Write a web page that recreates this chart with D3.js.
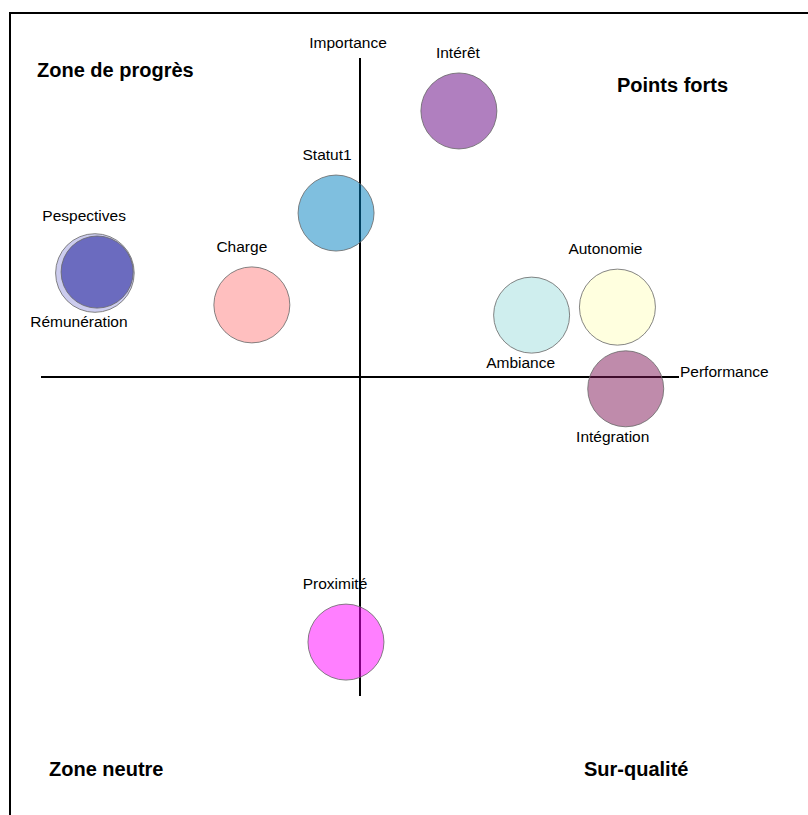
<!DOCTYPE html>
<html>
<head>
<meta charset="utf-8">
<script src="https://cdn.jsdelivr.net/npm/d3@7"></script>
<style>
  html, body { margin: 0; padding: 0; background: #fff; }
  svg { display: block; }
  text { font-family: "Liberation Sans", Arial, sans-serif; fill: #000; }
</style>
</head>
<body>
<svg id="chart" width="808" height="815"></svg>
<script>
// ---- data ----
const names = ["Rémunération", "Pespectives", "Intérêt", "Statut1", "Charge", "Ambiance", "Autonomie", "Intégration", "Proximité"];
const performance = [-0.831, -0.824, 0.31, -0.075, -0.339, 0.538, 0.807, 0.833, -0.044];
const importance  = [0.326, 0.329, 0.834, 0.514, 0.226, 0.194, 0.219, -0.037, -0.831];
const sizes       = [1.07, 0.90, 1, 1, 1, 1, 1, 1, 1];
const colors      = ["#9999dd", "#0a0a90", "#61007f", "#007fbf", "#ff7f7f", "#9fdddd", "#ffffbf", "#7f1757", "#ff00ff"];
const axisNames   = ["Performance", "Importance"];
const quadrants   = ["Zone de progrès", "Points forts", "Zone neutre", "Sur-qualité"];

// ---- layout (label placement, not data) ----
const labelSide = ["below", "above", "above", "above", "above", "below", "above", "below", "above"];
const labelDx   = [-16, -13, -1, -9, -10, -11, -12, -13, -11];

const svg = d3.select("#chart");
const x = d3.scaleLinear().domain([-1, 1]).range([41, 679]);
const y = d3.scaleLinear().domain([-1, 1]).range([696, 58]);
const r = d3.scaleSqrt().domain([0, 1]).range([0, 38]);

// frame
svg.append("line").attr("x1", 10).attr("y1", 13).attr("x2", 808).attr("y2", 13)
  .attr("stroke", "#000").attr("stroke-width", 2);
svg.append("line").attr("x1", 10).attr("y1", 12).attr("x2", 10).attr("y2", 815)
  .attr("stroke", "#000").attr("stroke-width", 2);

// axes
svg.append("line").attr("x1", x(-1)).attr("x2", x(1)).attr("y1", y(0)).attr("y2", y(0))
  .attr("stroke", "#000").attr("stroke-width", 2);
svg.append("line").attr("x1", x(0)).attr("x2", x(0)).attr("y1", y(1)).attr("y2", y(-1))
  .attr("stroke", "#000").attr("stroke-width", 2);

// axis titles
svg.append("text").attr("x", x(1) + 1).attr("y", y(0) - 0.5)
  .attr("font-size", 15.5).text(axisNames[0]);
svg.append("text").attr("x", x(0) - 12).attr("y", y(1) - 10.5)
  .attr("text-anchor", "middle").attr("font-size", 15.5).text(axisNames[1]);

// bubbles
const data = names.map((n, i) => ({ name: n, px: performance[i], im: importance[i], s: sizes[i], c: colors[i], side: labelSide[i], dx: labelDx[i] }));

svg.append("g").selectAll("circle").data(data).join("circle")
  .attr("cx", d => x(d.px)).attr("cy", d => y(d.im)).attr("r", d => r(d.s))
  .attr("fill", d => d.c).attr("fill-opacity", 0.5)
  .attr("stroke", "#666").attr("stroke-width", 0.8);

svg.append("g").selectAll("text").data(data).join("text")
  .attr("x", d => x(d.px) + d.dx)
  .attr("y", d => d.side === "above" ? y(d.im) - r(d.s) - 15 : y(d.im) + r(d.s) + 15)
  .attr("text-anchor", "middle").attr("font-size", 15.5)
  .text(d => d.name);

// quadrant titles
const qpos = [[37, 77, "start"], [617, 92, "start"], [49, 776, "start"], [584, 776, "start"]];
svg.append("g").selectAll("text").data(quadrants).join("text")
  .attr("x", (d, i) => qpos[i][0]).attr("y", (d, i) => qpos[i][1])
  .attr("font-size", 20).attr("font-weight", "bold")
  .text(d => d);
</script>
</body>
</html>
